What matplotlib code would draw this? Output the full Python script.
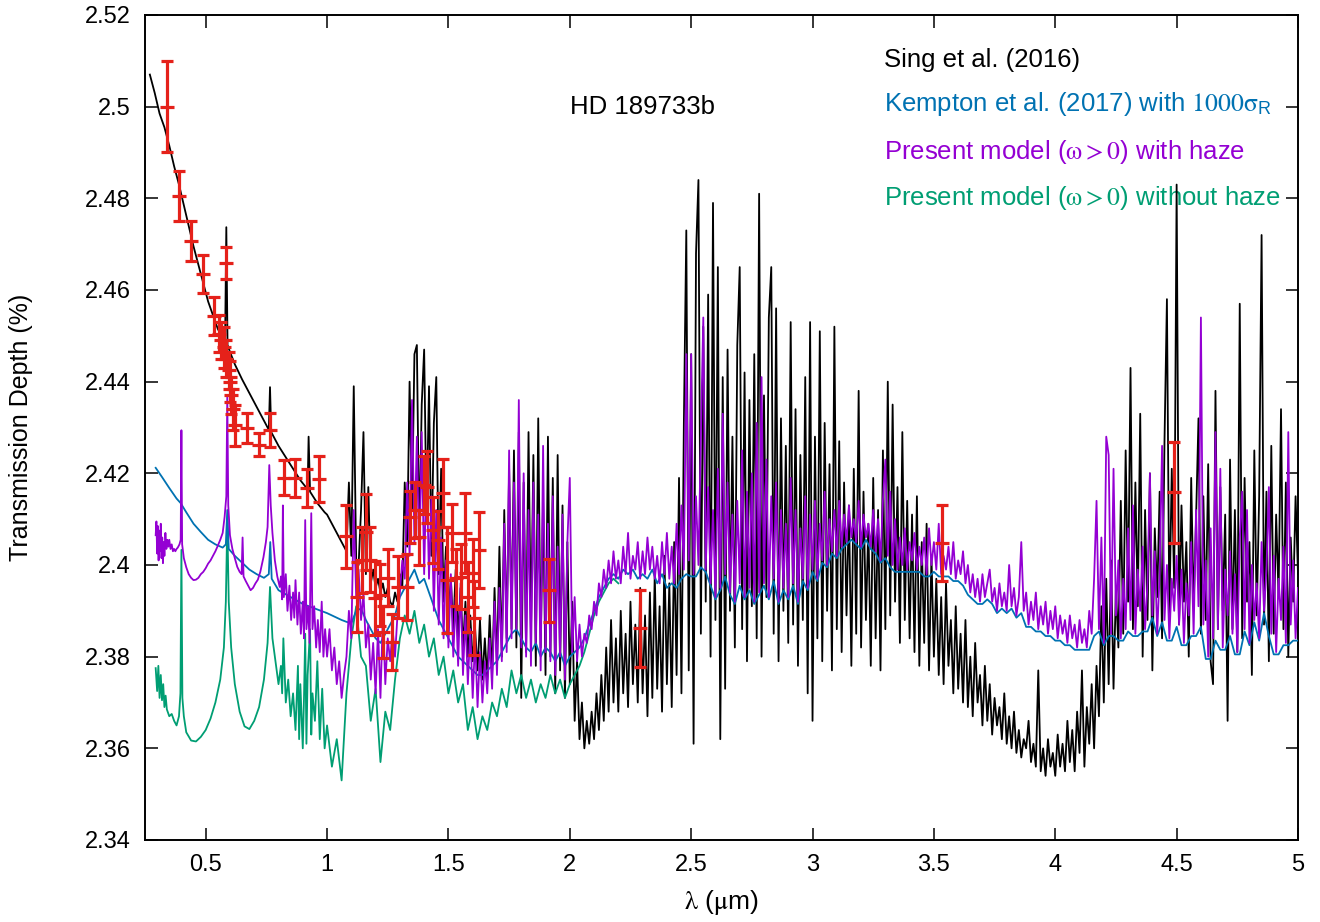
import numpy as np
import matplotlib
matplotlib.use("Agg")
import matplotlib.pyplot as plt
from matplotlib.ticker import FormatStrFormatter

plt.rcParams['font.family'] = ['Liberation Sans', 'DejaVu Sans']
plt.rcParams['mathtext.fontset'] = 'stix'

# ---- observed transit depths (Sing et al. 2016 compilation) ----
obs_wl = [0.340, 0.389, 0.438, 0.488, 0.533, 0.555, 0.565, 0.575, 0.582, 0.585,
          0.595, 0.600, 0.605, 0.612, 0.620, 0.669, 0.718, 0.767, 0.821, 0.866,
          0.919, 0.965, 1.080, 1.125, 1.146, 1.162, 1.178, 1.199, 1.220, 1.232,
          1.252, 1.269, 1.294, 1.331, 1.343, 1.364, 1.380, 1.400, 1.413, 1.438,
          1.458, 1.479, 1.495, 1.516, 1.532, 1.553, 1.569, 1.581, 1.602, 1.606,
          1.627, 1.914, 2.289, 3.535, 4.488]
obs_depth = [2.5000, 2.4805, 2.4707, 2.4635, 2.4543, 2.4505, 2.4490, 2.4475, 2.4659, 2.4450,
             2.4425, 2.4400, 2.4370, 2.4340, 2.4305, 2.4299, 2.4262, 2.4294, 2.4190, 2.4190,
             2.4168, 2.4188, 2.4063, 2.3930, 2.4011, 2.4072, 2.4011, 2.3928, 2.3935, 2.3854,
             2.3972, 2.3832, 2.3952, 2.3952, 2.4105, 2.4120, 2.4061, 2.4174, 2.4170, 2.4076,
             2.4054, 2.4157, 2.3967, 2.4070, 2.3972, 2.3974, 2.4070, 2.3930, 2.3982, 2.3884,
             2.4033, 2.3945, 2.3862, 2.4048, 2.4159]
obs_err = [0.0100, 0.0055, 0.0044, 0.0041, 0.0041, 0.0040, 0.0040, 0.0045, 0.0035, 0.0040,
           0.0040, 0.0045, 0.0040, 0.0045, 0.0045, 0.0033, 0.0025, 0.0037, 0.0038, 0.0041,
           0.0041, 0.0050, 0.0069, 0.0076, 0.0072, 0.0083, 0.0071, 0.0080, 0.0068, 0.0056,
           0.0062, 0.0062, 0.0068, 0.0071, 0.0056, 0.0061, 0.0060, 0.0063, 0.0079, 0.0072,
           0.0063, 0.0075, 0.0116, 0.0063, 0.0062, 0.0071, 0.0087, 0.0076, 0.0074, 0.0080,
           0.0083, 0.0069, 0.0084, 0.0084, 0.0110]

# ---- Sing et al. (2016) model: optical part (irregular sampling) ----
sing_vis_wl = [0.27, 0.29, 0.31, 0.33, 0.35, 0.37, 0.39, 0.41, 0.43, 0.45,
               0.47, 0.49, 0.51, 0.53, 0.55, 0.57, 0.58, 0.585, 0.59, 0.60,
               0.62, 0.65, 0.68, 0.70, 0.73, 0.76, 0.765, 0.77, 0.80, 0.83,
               0.86, 0.89, 0.92, 0.924, 0.93, 0.96, 0.99]
sing_vis = [2.507, 2.503, 2.4985, 2.4955, 2.4915, 2.487, 2.483, 2.4785, 2.474, 2.4695,
            2.4655, 2.4615, 2.4575, 2.4545, 2.4515, 2.4495, 2.449, 2.4737, 2.448, 2.4465,
            2.4438, 2.4405, 2.4375, 2.4355, 2.4325, 2.4295, 2.4388, 2.429, 2.426, 2.4235,
            2.421, 2.4185, 2.4165, 2.428, 2.416, 2.4135, 2.4115]

# 1.00 - 5.00 um, step 0.01 (one row = 0.1 um)
sing_ir = [
    2.411, 2.410, 2.409, 2.408, 2.407, 2.406, 2.405, 2.404, 2.403, 2.418,
    2.402, 2.439, 2.401, 2.400, 2.412, 2.429, 2.398, 2.417, 2.396, 2.399,
    2.395, 2.397, 2.394, 2.396, 2.393, 2.395, 2.392, 2.391, 2.394, 2.392,
    2.398, 2.395, 2.418, 2.404, 2.440, 2.412, 2.446, 2.448, 2.405, 2.435,
    2.447, 2.410, 2.439, 2.402, 2.431, 2.441, 2.398, 2.421, 2.392, 2.404,
    2.389, 2.397, 2.386, 2.399, 2.384, 2.395, 2.382, 2.392, 2.380, 2.389,
    2.379, 2.386, 2.377, 2.388, 2.375, 2.384, 2.375, 2.389, 2.376, 2.395,
    2.378, 2.404, 2.380, 2.412, 2.384, 2.421, 2.386, 2.425, 2.382, 2.429,
    2.371, 2.418, 2.381, 2.429, 2.385, 2.424, 2.378, 2.432, 2.382, 2.414,
    2.376, 2.428, 2.380, 2.419, 2.372, 2.424, 2.377, 2.413, 2.371, 2.405,
    2.374, 2.392, 2.366, 2.379, 2.362, 2.370, 2.360, 2.366, 2.361, 2.368,
    2.362, 2.372, 2.364, 2.376, 2.366, 2.382, 2.368, 2.388, 2.370, 2.384,
    2.368, 2.390, 2.372, 2.385, 2.369, 2.392, 2.374, 2.387, 2.370, 2.395,
    2.372, 2.389, 2.367, 2.394, 2.371, 2.398, 2.373, 2.391, 2.368, 2.402,
    2.374, 2.396, 2.369, 2.405, 2.376, 2.419, 2.372, 2.431, 2.473, 2.377,
    2.446, 2.361, 2.468, 2.484, 2.385, 2.452, 2.392, 2.459, 2.380, 2.479,
    2.388, 2.465, 2.362, 2.441, 2.373, 2.447, 2.390, 2.428, 2.382, 2.448,
    2.465, 2.386, 2.442, 2.379, 2.436, 2.391, 2.446, 2.384, 2.481, 2.380,
    2.437, 2.393, 2.454, 2.465, 2.385, 2.456, 2.379, 2.432, 2.390, 2.426,
    2.383, 2.453, 2.387, 2.434, 2.378, 2.424, 2.388, 2.441, 2.372, 2.453,
    2.366, 2.428, 2.384, 2.451, 2.379, 2.431, 2.390, 2.422, 2.377, 2.452,
    2.386, 2.427, 2.381, 2.418, 2.389, 2.413, 2.378, 2.421, 2.385, 2.438,
    2.382, 2.416, 2.388, 2.409, 2.378, 2.419, 2.384, 2.412, 2.377, 2.425,
    2.386, 2.440, 2.389, 2.435, 2.392, 2.417, 2.383, 2.429, 2.388, 2.414,
    2.384, 2.411, 2.381, 2.415, 2.378, 2.405, 2.383, 2.409, 2.377, 2.402,
    2.380, 2.397, 2.376, 2.393, 2.374, 2.396, 2.378, 2.388, 2.372, 2.391,
    2.373, 2.385, 2.370, 2.388, 2.369, 2.380, 2.367, 2.383, 2.370, 2.376,
    2.365, 2.378, 2.366, 2.374, 2.363, 2.371, 2.365, 2.369, 2.362, 2.372,
    2.361, 2.367, 2.360, 2.368, 2.359, 2.364, 2.358, 2.362, 2.360, 2.366,
    2.357, 2.361, 2.356, 2.377, 2.355, 2.360, 2.354, 2.362, 2.356, 2.359,
    2.354, 2.363, 2.356, 2.361, 2.355, 2.366, 2.357, 2.364, 2.355, 2.368,
    2.359, 2.377, 2.356, 2.369, 2.361, 2.374, 2.360, 2.378, 2.367, 2.391,
    2.370, 2.397, 2.374, 2.401, 2.373, 2.395, 2.382, 2.414, 2.385, 2.425,
    2.392, 2.443, 2.386, 2.418, 2.391, 2.433, 2.380, 2.412, 2.388, 2.420,
    2.377, 2.408, 2.393, 2.416, 2.384, 2.427, 2.458, 2.389, 2.421, 2.395,
    2.483, 2.387, 2.413, 2.392, 2.405, 2.380, 2.419, 2.391, 2.410, 2.432,
    2.385, 2.415, 2.388, 2.422, 2.379, 2.374, 2.438, 2.386, 2.417, 2.390,
    2.411, 2.366, 2.423, 2.386, 2.412, 2.381, 2.457, 2.384, 2.419, 2.392,
    2.405, 2.376, 2.425, 2.389, 2.415, 2.472, 2.387, 2.416, 2.379, 2.426,
    2.385, 2.411, 2.393, 2.434, 2.386, 2.418, 2.380, 2.406, 2.392, 2.415,
    2.398]

# ---- present model with haze ----
haze_vis_wl = [0.294, 0.297, 0.300, 0.303, 0.306, 0.309, 0.312, 0.315, 0.318, 0.321,
               0.324, 0.327, 0.330, 0.334, 0.338, 0.342, 0.346, 0.350, 0.355, 0.360,
               0.365, 0.370, 0.375, 0.380, 0.385, 0.392, 0.397, 0.400, 0.403, 0.410,
               0.420, 0.430, 0.440, 0.450, 0.460, 0.470, 0.480, 0.490, 0.500, 0.510,
               0.520, 0.530, 0.540, 0.550, 0.560, 0.570, 0.578, 0.585, 0.589, 0.593,
               0.600, 0.610, 0.620, 0.630, 0.640, 0.648, 0.652, 0.656, 0.665, 0.675,
               0.685, 0.695, 0.705, 0.715, 0.725, 0.738, 0.748, 0.755, 0.762, 0.768,
               0.775, 0.785, 0.795, 0.805, 0.810, 0.815, 0.818, 0.822, 0.830, 0.837,
               0.845, 0.852, 0.860, 0.865, 0.870, 0.878, 0.885, 0.892, 0.900, 0.905,
               0.910, 0.915, 0.922, 0.928, 0.935, 0.940, 0.947, 0.955, 0.962, 0.970,
               0.978, 0.985, 0.992]
haze_vis = [2.4065, 2.4095, 2.4025, 2.4085, 2.4010, 2.4075, 2.4030, 2.4090, 2.4015, 2.4060,
            2.4004, 2.4050, 2.4020, 2.4070, 2.4035, 2.4055, 2.4040, 2.4055, 2.4035, 2.4045,
            2.4030, 2.4035, 2.4030, 2.4035, 2.4038, 2.4045, 2.4055, 2.4294, 2.4045, 2.4015,
            2.3995, 2.3980, 2.3972, 2.3967, 2.3968, 2.3972, 2.3980, 2.3985, 2.3993, 2.4003,
            2.4010, 2.4020, 2.4030, 2.4042, 2.4055, 2.4070, 2.4105, 2.4150, 2.4370, 2.4130,
            2.4065, 2.4035, 2.4015, 2.3996, 2.3985, 2.3980, 2.4060, 2.3975, 2.3965, 2.3955,
            2.3945, 2.3950, 2.3960, 2.3968, 2.3985, 2.4017, 2.4050, 2.4083, 2.4218, 2.4130,
            2.4070, 2.4010, 2.3975, 2.3952, 2.3975, 2.3925, 2.4130, 2.3930, 2.3980, 2.3900,
            2.3955, 2.3880, 2.3940, 2.3885, 2.3967, 2.3870, 2.3940, 2.3850, 2.3920, 2.3840,
            2.4098, 2.3860, 2.3910, 2.3830, 2.4113, 2.3860, 2.3910, 2.3820, 2.3880, 2.3810,
            2.3920, 2.3800, 2.3860]

# 1.00 - 5.00 um, step 0.01
haze_ir = [
    2.380, 2.386, 2.377, 2.382, 2.374, 2.379, 2.371, 2.376, 2.380, 2.390,
    2.384, 2.412, 2.393, 2.399, 2.388, 2.394, 2.382, 2.387, 2.375, 2.383,
    2.372, 2.386, 2.371, 2.389, 2.374, 2.384, 2.379, 2.386, 2.380, 2.389,
    2.394, 2.401, 2.397, 2.418, 2.402, 2.436, 2.405, 2.428, 2.400, 2.429,
    2.398, 2.422, 2.397, 2.415, 2.390, 2.412, 2.387, 2.406, 2.384, 2.401,
    2.382, 2.398, 2.380, 2.393, 2.378, 2.396, 2.376, 2.389, 2.374, 2.386,
    2.371, 2.384, 2.369, 2.381, 2.370, 2.379, 2.372, 2.384, 2.373, 2.392,
    2.376, 2.395, 2.379, 2.409, 2.381, 2.425, 2.384, 2.418, 2.386, 2.436,
    2.382, 2.420, 2.380, 2.412, 2.378, 2.418, 2.383, 2.411, 2.377, 2.426,
    2.381, 2.409, 2.379, 2.415, 2.376, 2.404, 2.380, 2.411, 2.375, 2.405,
    2.419, 2.381, 2.393, 2.379, 2.387, 2.380, 2.385, 2.383, 2.389, 2.386,
    2.392, 2.389, 2.396, 2.393, 2.399, 2.395, 2.401, 2.396, 2.403, 2.397,
    2.401, 2.396, 2.404, 2.398, 2.407, 2.397, 2.402, 2.399, 2.405, 2.397,
    2.403, 2.398, 2.406, 2.399, 2.404, 2.397, 2.402, 2.396, 2.405, 2.398,
    2.407, 2.397, 2.404, 2.396, 2.409, 2.398, 2.413, 2.399, 2.446, 2.401,
    2.446, 2.398, 2.415, 2.400, 2.428, 2.454, 2.399, 2.417, 2.396, 2.412,
    2.393, 2.421, 2.395, 2.433, 2.398, 2.418, 2.394, 2.411, 2.392, 2.414,
    2.396, 2.425, 2.393, 2.416, 2.395, 2.420, 2.392, 2.431, 2.394, 2.441,
    2.396, 2.423, 2.393, 2.415, 2.397, 2.418, 2.392, 2.412, 2.395, 2.409,
    2.393, 2.419, 2.396, 2.412, 2.392, 2.408, 2.397, 2.415, 2.395, 2.411,
    2.399, 2.414, 2.397, 2.409, 2.401, 2.416, 2.400, 2.410, 2.403, 2.412,
    2.402, 2.414, 2.404, 2.411, 2.405, 2.413, 2.406, 2.410, 2.405, 2.414,
    2.404, 2.411, 2.406, 2.409, 2.404, 2.412, 2.403, 2.410, 2.401, 2.414,
    2.423, 2.402, 2.416, 2.400, 2.410, 2.399, 2.406, 2.400, 2.408, 2.399,
    2.405, 2.401, 2.407, 2.399, 2.404, 2.400, 2.406, 2.398, 2.408, 2.400,
    2.405, 2.399, 2.409, 2.398, 2.402, 2.399, 2.404, 2.398, 2.405, 2.397,
    2.401, 2.398, 2.403, 2.396, 2.400, 2.394, 2.398, 2.393, 2.397, 2.392,
    2.398, 2.393, 2.396, 2.399, 2.392, 2.395, 2.390, 2.396, 2.391, 2.394,
    2.390, 2.400, 2.391, 2.395, 2.389, 2.393, 2.405, 2.390, 2.394, 2.387,
    2.392, 2.388, 2.394, 2.386, 2.391, 2.387, 2.392, 2.385, 2.390, 2.386,
    2.391, 2.384, 2.389, 2.385, 2.388, 2.383, 2.389, 2.384, 2.387, 2.382,
    2.388, 2.383, 2.386, 2.382, 2.390, 2.385, 2.397, 2.414, 2.386, 2.406,
    2.383, 2.428, 2.424, 2.385, 2.421, 2.389, 2.401, 2.384, 2.397, 2.386,
    2.408, 2.388, 2.413, 2.385, 2.399, 2.390, 2.404, 2.386, 2.396, 2.420,
    2.389, 2.403, 2.385, 2.398, 2.426, 2.388, 2.400, 2.384, 2.397, 2.390,
    2.402, 2.387, 2.399, 2.383, 2.396, 2.389, 2.405, 2.385, 2.412, 2.391,
    2.454, 2.387, 2.401, 2.380, 2.408, 2.384, 2.429, 2.386, 2.421, 2.382,
    2.399, 2.389, 2.403, 2.385, 2.398, 2.381, 2.406, 2.416, 2.386, 2.412,
    2.383, 2.400, 2.388, 2.396, 2.384, 2.405, 2.390, 2.399, 2.417, 2.385,
    2.402, 2.381, 2.397, 2.388, 2.404, 2.383, 2.429, 2.387, 2.401, 2.384,
    2.395]

# ---- Kempton et al. (2017) with 1000 x Rayleigh ----
kempton_vis_wl = [0.294, 0.32, 0.35, 0.38, 0.397, 0.42, 0.45, 0.48, 0.51, 0.54,
                  0.57, 0.583, 0.589, 0.595, 0.62, 0.65, 0.68, 0.71, 0.74, 0.76,
                  0.766, 0.772, 0.80, 0.85, 0.90, 0.95, 0.99]
kempton_vis = [2.4212, 2.4192, 2.4168, 2.4145, 2.4135, 2.4115, 2.4090, 2.4072, 2.4055, 2.4045,
               2.4038, 2.4045, 2.4120, 2.4035, 2.4020, 2.4005, 2.3990, 2.3980, 2.3972, 2.3980,
               2.4050, 2.3970, 2.3945, 2.3930, 2.3915, 2.3905, 2.3897]

# 1.00 - 5.00 um, step 0.02 (one row = 0.1 um)
kempton_ir = [
    2.3895, 2.3890, 2.3885, 2.3880, 2.3876,
    2.3873, 2.3900, 2.3905, 2.3880, 2.3860,
    2.3840, 2.3830, 2.3850, 2.3870, 2.3890,
    2.3930, 2.3950, 2.3970, 2.3990, 2.3960,
    2.3970, 2.3940, 2.3910, 2.3880, 2.3860,
    2.3840, 2.3820, 2.3800, 2.3790, 2.3780,
    2.3770, 2.3760, 2.3760, 2.3770, 2.3780,
    2.3790, 2.3810, 2.3830, 2.3850, 2.3860,
    2.3840, 2.3820, 2.3810, 2.3830, 2.3800,
    2.3820, 2.3810, 2.3790, 2.3810, 2.3780,
    2.3800, 2.3810, 2.3820, 2.3840, 2.3870,
    2.3900, 2.3930, 2.3950, 2.3970, 2.3980,
    2.3970, 2.3990, 2.3980, 2.3990, 2.3970,
    2.3980, 2.3970, 2.3990, 2.3960, 2.3980,
    2.3950, 2.3960, 2.3950, 2.3970, 2.3980,
    2.3975, 2.3975, 2.3995, 2.3985, 2.3955,
    2.3925, 2.3945, 2.3975, 2.3935, 2.3915,
    2.3955, 2.3925, 2.3945, 2.3915, 2.3935,
    2.3955, 2.3925, 2.3965, 2.3915, 2.3945,
    2.3925, 2.3955, 2.3915, 2.3965, 2.3945,
    2.3985, 2.3965, 2.4005, 2.3995, 2.4025,
    2.4015, 2.4035, 2.4045, 2.4055, 2.4045,
    2.4035, 2.4055, 2.4035, 2.4025, 2.4005,
    2.4015, 2.3995, 2.3985, 2.3985, 2.3985,
    2.3985, 2.3985, 2.3985, 2.3975, 2.3975,
    2.3985, 2.3975, 2.3975, 2.3975, 2.3965,
    2.3965, 2.3955, 2.3935, 2.3925, 2.3915,
    2.3915, 2.3925, 2.3915, 2.3895, 2.3905,
    2.3895, 2.3905, 2.3885, 2.3895, 2.3865,
    2.3865, 2.3855, 2.3855, 2.3845, 2.3845,
    2.3835, 2.3835, 2.3825, 2.3825, 2.3815,
    2.3815, 2.3815, 2.3815, 2.3845, 2.3855,
    2.3825, 2.3845, 2.3845, 2.3835, 2.3835,
    2.3855, 2.3845, 2.3845, 2.3855, 2.3855,
    2.3885, 2.3845, 2.3875, 2.3835, 2.3835,
    2.3865, 2.3825, 2.3825, 2.3845, 2.3845,
    2.3865, 2.3795, 2.3795, 2.3835, 2.3815,
    2.3815, 2.3845, 2.3805, 2.3805, 2.3855,
    2.3825, 2.3875, 2.3835, 2.3895, 2.3845,
    2.3805, 2.3805, 2.3825, 2.3825, 2.3835,
    2.3835]

# ---- present model without haze ----
clear_vis_wl = [0.294, 0.300, 0.305, 0.310, 0.315, 0.320, 0.325, 0.330, 0.335, 0.340,
                0.350, 0.360, 0.370, 0.380, 0.390, 0.396, 0.400, 0.404, 0.410, 0.420,
                0.440, 0.460, 0.480, 0.500, 0.520, 0.540, 0.560, 0.575, 0.583, 0.589,
                0.595, 0.605, 0.620, 0.640, 0.660, 0.680, 0.700, 0.720, 0.740, 0.755,
                0.765, 0.775, 0.790, 0.800, 0.810, 0.815, 0.820, 0.830, 0.840, 0.850,
                0.860, 0.870, 0.880, 0.885, 0.890, 0.900, 0.905, 0.910, 0.915, 0.920,
                0.930, 0.935, 0.940, 0.950, 0.960, 0.970, 0.980, 0.990]
clear_vis = [2.3775, 2.3725, 2.3780, 2.3710, 2.3760, 2.3705, 2.3740, 2.3690, 2.3715, 2.3685,
             2.3670, 2.3675, 2.3660, 2.3650, 2.3670, 2.3720, 2.4033, 2.3710, 2.3670, 2.3635,
             2.3617, 2.3615, 2.3625, 2.3640, 2.3665, 2.3700, 2.3750, 2.3820, 2.3920, 2.4095,
             2.3920, 2.3820, 2.3740, 2.3680, 2.3648, 2.3642, 2.3660, 2.3690, 2.3750, 2.3830,
             2.3952, 2.3840, 2.3780, 2.3740, 2.3780, 2.3720, 2.3840, 2.3700, 2.3750, 2.3670,
             2.3720, 2.3640, 2.3780, 2.3620, 2.3740, 2.3600, 2.3710, 2.3850, 2.3610, 2.3760,
             2.3860, 2.3630, 2.3720, 2.3660, 2.3790, 2.3620, 2.3730, 2.3600]

# 1.00 - 2.20 um, step 0.02 (beyond this it sits under the other models)
clear_ir = [
    2.365, 2.356, 2.362, 2.353, 2.372,
    2.384, 2.391, 2.380, 2.378, 2.366,
    2.373, 2.357, 2.368, 2.364, 2.375,
    2.384, 2.389, 2.385, 2.390, 2.383,
    2.387, 2.380, 2.384, 2.376, 2.380,
    2.372, 2.377, 2.370, 2.374, 2.364,
    2.369, 2.362, 2.367, 2.364, 2.370,
    2.367, 2.373, 2.369, 2.377, 2.372,
    2.376, 2.371, 2.375, 2.370, 2.374,
    2.371, 2.376, 2.372, 2.375, 2.371,
    2.374, 2.376, 2.378, 2.381, 2.385,
    2.389, 2.392, 2.394, 2.396, 2.397,
    2.396]

C_SING = 'black'
C_KEMPTON = '#0072b2'
C_HAZE = '#9400d3'
C_CLEAR = '#009e73'
C_OBS = '#e5211a'


def join(vis_wl, vis, ir, stop):
    wl = np.concatenate([vis_wl, np.linspace(1.0, stop, len(ir))])
    return wl, np.concatenate([vis, ir])


sing_wl, sing = join(sing_vis_wl, sing_vis, sing_ir, 5.0)
haze_wl, haze = join(haze_vis_wl, haze_vis, haze_ir, 5.0)
kempton_wl, kempton = join(kempton_vis_wl, kempton_vis, kempton_ir, 5.0)
clear_wl, clear = join(clear_vis_wl, clear_vis, clear_ir, 2.2)

fig = plt.figure(figsize=(13.2, 9.22), dpi=100)
ax = fig.add_axes([145 / 1320, 82 / 922, 1153 / 1320, 825 / 922])

lw = 1.3
ax.plot(sing_wl, sing, color=C_SING, lw=lw, zorder=1)
ax.plot(clear_wl, clear, color=C_CLEAR, lw=lw, zorder=2)
ax.plot(kempton_wl, kempton, color=C_KEMPTON, lw=lw, zorder=3)
ax.plot(haze_wl, haze, color=C_HAZE, lw=lw, zorder=4)
ax.errorbar(obs_wl, obs_depth, yerr=obs_err, fmt='_', color=C_OBS, ms=10, mew=2.3,
            elinewidth=2.3, capsize=4.5, capthick=2.3, zorder=5)

ax.set_xlim(0.25, 5.0)
ax.set_ylim(2.34, 2.52)
ax.set_xticks(np.arange(0.5, 5.01, 0.5))
ax.set_yticks(np.arange(2.34, 2.521, 0.02))
ax.xaxis.set_major_formatter(FormatStrFormatter('%g'))
ax.yaxis.set_major_formatter(FormatStrFormatter('%g'))
ax.tick_params(direction='in', top=True, right=True, length=9, width=1.1,
               labelsize=17, pad=10)
for s in ax.spines.values():
    s.set_linewidth(1.4)

ax.set_xlabel(r'$\mathrm{\lambda}$ ($\mathrm{\mu}$m)', fontsize=19)
ax.xaxis.set_label_coords(0.5, -0.058)
ax.set_ylabel('Transmission Depth (%)', fontsize=18)
ax.yaxis.set_label_coords(-0.097, 0.5)

ax.text(2.0, 2.50, 'HD 189733b', fontsize=18.5, ha='left', va='center')

lx = 0.641
fs = 18.5
ax.text(lx, 0.9455, 'Sing et al. (2016)', color=C_SING, fontsize=fs,
        transform=ax.transAxes, va='center')
ax.text(lx, 0.8921, r'Kempton et al. (2017) with $\mathrm{1000\sigma}_{\mathregular{R}}$',
        color=C_KEMPTON, fontsize=fs, transform=ax.transAxes, va='center')
ax.text(lx, 0.8339, r'Present model ($\mathrm{\omega} > 0$) with haze', color=C_HAZE,
        fontsize=fs, transform=ax.transAxes, va='center')
ax.text(lx, 0.7782, r'Present model ($\mathrm{\omega} > 0$) without haze', color=C_CLEAR,
        fontsize=fs, transform=ax.transAxes, va='center', zorder=0)

fig.savefig('out.png', dpi=100)
